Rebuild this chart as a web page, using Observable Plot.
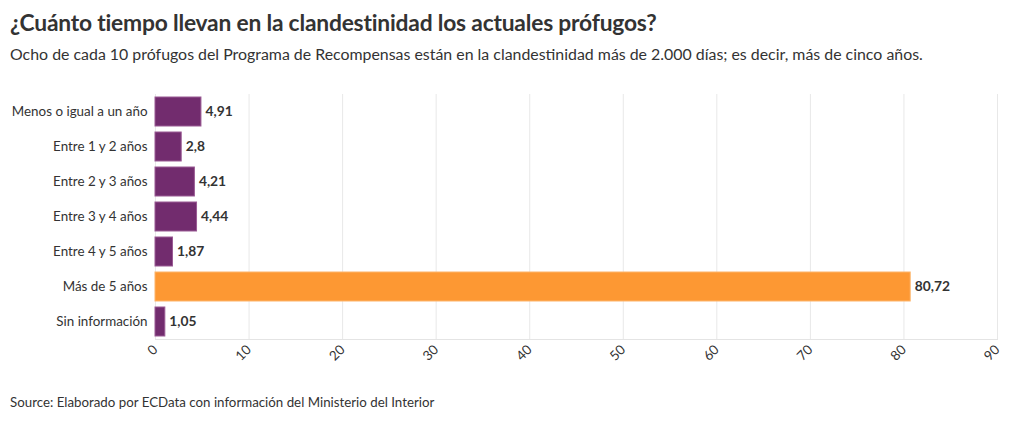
<!DOCTYPE html>
<html><head><meta charset="utf-8">
<script src="https://cdn.jsdelivr.net/npm/d3@7"></script>
<script src="https://cdn.jsdelivr.net/npm/@observablehq/plot@0.6"></script>
<style>
body{margin:0;background:#fff;font-family:"Source Sans Pro",Lato,"Noto Sans",sans-serif;color:#333;}
#wrap{position:relative;width:1020px;height:421px;}
h1{position:absolute;left:10px;top:8px;margin:0;font-size:22.8px;font-weight:700;color:#333;letter-spacing:-0.2px;}
.sub{position:absolute;left:10px;top:44px;margin:0;font-size:15.9px;color:#333;}
#chart{position:absolute;left:0;top:85px;}
.src{position:absolute;left:10px;top:394px;font-size:13.3px;color:#333;}
</style></head>
<body><div id="wrap">
<h1>¿Cuánto tiempo llevan en la clandestinidad los actuales prófugos?</h1>
<p class="sub">Ocho de cada 10 prófugos del Programa de Recompensas están en la clandestinidad más de 2.000 días; es decir, más de cinco años.</p>
<div id="chart"></div>
<div class="src">Source: Elaborado por ECData con información del Ministerio del Interior</div>
</div>
<script>
const categories = ["Menos o igual a un año","Entre 1 y 2 años","Entre 2 y 3 años","Entre 3 y 4 años","Entre 4 y 5 años","Más de 5 años","Sin información"];
const values = [4.91, 2.8, 4.21, 4.44, 1.87, 80.72, 1.05];
const labels = ["4,91","2,8","4,21","4,44","1,87","80,72","1,05"];
const xTicks = [0,10,20,30,40,50,60,70,80,90];
const highlight = "Más de 5 años";

const data = categories.map((c,i)=>({cat:c, value:values[i], label:labels[i]}));

const chart = Plot.plot({
  width: 1020,
  height: 300,
  marginLeft: 155,
  marginRight: 23,
  marginTop: 9,
  marginBottom: 46,
  style: {fontFamily: '"Source Sans Pro",Lato,"Noto Sans",sans-serif', fontSize: "13.4px", color:"#333", background:"#fff"},
  x: {domain:[0,90], ticks:xTicks, tickRotate:-45, tickSize:0, tickPadding:8, label:null, grid:false},
  y: {domain:categories, paddingInner:0.17, paddingOuter:0.085, label:null, tickSize:0, tickPadding:8},
  marks: [
    Plot.ruleX(xTicks, {stroke:"#e8e8e8", strokeWidth:1, strokeOpacity:1}),
    Plot.frame({anchor:"bottom", stroke:"#e4e4e4", strokeOpacity:1}),
    Plot.barX(data, {y:"cat", x:"value", fill:d=>d.cat===highlight?"#fd9833":"#722c6e", stroke:d=>d.cat===highlight?"#fdb46a":"#9a5a94", strokeWidth:1}),
    Plot.text(data, {y:"cat", x:"value", text:"label", textAnchor:"start", dx:4, fontWeight:700, fontSize:13.8, fill:"#333"})
  ]
});
document.getElementById("chart").appendChild(chart);
</script>
</body></html>
